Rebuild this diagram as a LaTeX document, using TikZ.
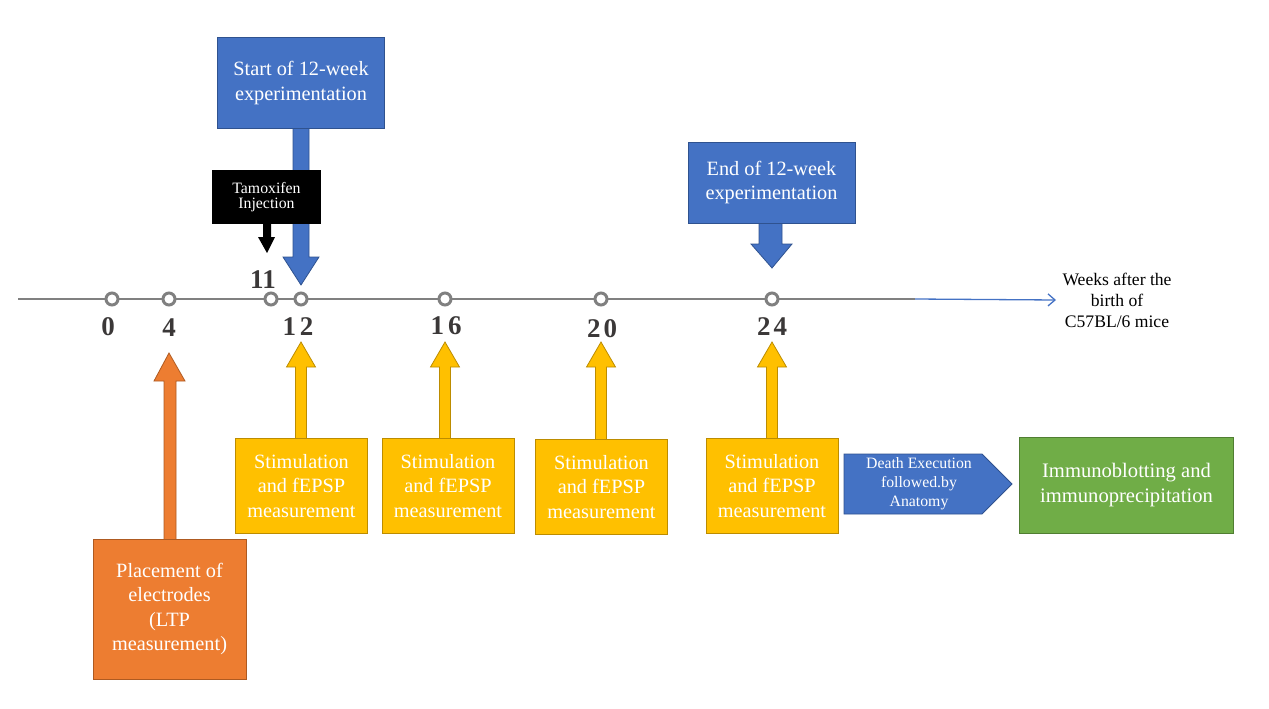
\documentclass[tikz,border=0pt]{standalone}
\usepackage{fontspec}
\setmainfont{Liberation Serif}
\usetikzlibrary{arrows.meta}
\definecolor{cblue}{HTML}{4472C4}
\definecolor{cblueb}{HTML}{2F528F}
\definecolor{corange}{HTML}{ED7D31}
\definecolor{corangeb}{HTML}{AE5A21}
\definecolor{cyellow}{HTML}{FFC000}
\definecolor{cyellowb}{HTML}{BC8C00}
\definecolor{cgreen}{HTML}{70AD47}
\definecolor{cgreenb}{HTML}{507E32}
\definecolor{caxis}{HTML}{808080}
\definecolor{cnum}{HTML}{3B3838}
\tikzset{
  txt20/.style={font=\fontsize{20.3}{24.5}\selectfont},
  bluebox/.style={draw=cblueb, fill=cblue, text=white, align=center, inner sep=0pt, line width=0.8pt, txt20},
  yelbox/.style={draw=cyellowb, fill=cyellow, text=white, align=center, inner sep=0pt, line width=0.8pt, minimum width=132pt, minimum height=95pt, txt20},
  yelarrow/.style={draw=cyellowb, fill=cyellow, line width=0.8pt},
  tick/.style={circle, draw=caxis, fill=white, line width=3pt, minimum size=12pt, inner sep=0pt},
  num/.style={text=cnum, font=\fontsize{27}{27}\selectfont\bfseries},
}
\begin{document}
\begin{tikzpicture}[x=1pt,y=-1pt]
\useasboundingbox (0,0) rectangle (1269,709);
% axis
\coordinate (axL) at (18,299);
\coordinate (axM) at (915,299);
\coordinate (axR) at (1056,300);
\draw[caxis, line width=2pt] (axL) -- (axM);
\draw[cblue, line width=1.3pt, -{Straight Barb[length=7pt,width=12pt]}] (axM) -- (axR);
\node[align=center, font=\fontsize{17.6}{21}\selectfont, anchor=center] (wk) at (1117,300) {Weeks after the\\birth of\\C57BL/6 mice};
% start callout
\fill[cblue, draw=cblueb, line width=0.8pt] (293,128) -- (293,257) -- (283,257) -- (301,285) -- (319,257) -- (309,257) -- (309,128) -- cycle;
\node[bluebox, minimum width=167pt, minimum height=91pt] (start) at (301,83) {Start of 12-week\\experimentation};
% tamoxifen
\node[fill=black, text=white, align=center, inner sep=0pt, minimum width=109pt, minimum height=54pt, font=\fontsize{15.8}{15.5}\selectfont] (tam) at (266.5,197) {Tamoxifen\\Injection};
\fill[black] (263,224) -- (263,237) -- (258,237) -- (267,253) -- (275,237) -- (271,237) -- (271,224) -- cycle;
% end callout
\fill[cblue, draw=cblueb, line width=0.8pt] (759,222) -- (759,244) -- (751,244) -- (772,268) -- (792,244) -- (782,244) -- (782,222) -- cycle;
\node[bluebox, minimum width=167pt, minimum height=81pt] (end) at (771.5,182.5) {End of 12-week\\experimentation};
% ticks
\node[tick] (t0) at (112,299) {};
\node[tick] (t4) at (169,299) {};
\node[tick] (t11) at (271,299) {};
\node[tick] (t12) at (301,299) {};
\node[tick] (t16) at (445,299) {};
\node[tick] (t20) at (601,299) {};
\node[tick] (t24) at (772,299) {};
% numbers
\node[num] (n0) at (108,327) {0};
\node[num] (n4) at (169,328) {4};
\node[num] (n11) at (263,280) {11};
\node[num] (n12) at (298,327) {1\kern4pt 2};
\node[num] (n16) at (446,326) {1\kern4pt 6};
\node[num] (n20) at (602,329) {2\kern3pt 0};
\node[num] (n24) at (772,327) {2\kern3pt 4};
% orange
\fill[corange, draw=corangeb, line width=0.8pt] (164,540) -- (164,381) -- (154,381) -- (169,353) -- (185,381) -- (176,381) -- (176,540) -- cycle;
\node[draw=corangeb, fill=corange, text=white, align=center, inner sep=0pt, line width=0.8pt, minimum width=153pt, minimum height=140pt, txt20] (place) at (169.5,609) {Placement of\\electrodes\\(LTP\\measurement)};
% yellow arrows and boxes
\foreach \cx in {301, 445, 601, 772}{
  \draw[yelarrow] (\cx-5.5,440) -- (\cx-5.5,367) -- (\cx-14.5,367) -- (\cx,342) -- (\cx+14.5,367) -- (\cx+5.5,367) -- (\cx+5.5,440) -- cycle;
}
\node[yelbox] (s1) at (301.5,486) {Stimulation\\and fEPSP\\measurement};
\node[yelbox] (s2) at (448,486) {Stimulation\\and fEPSP\\measurement};
\node[yelbox] (s3) at (601.5,487) {Stimulation\\and fEPSP\\measurement};
\node[yelbox] (s4) at (772,486) {Stimulation\\and fEPSP\\measurement};
% pentagon
\draw[cblueb, fill=cblue, line width=0.8pt] (844,454) -- (982,454) -- (1012,484) -- (982,514) -- (844,514) -- cycle;
\node[text=white, align=center, font=\fontsize{15.8}{19}\selectfont] (death) at (919,484) {Death Execution\\followed.by\\Anatomy};
% green
\node[draw=cgreenb, fill=cgreen, text=white, align=center, inner sep=0pt, line width=0.8pt, minimum width=214pt, minimum height=96pt, font=\fontsize{20.6}{25}\selectfont] (immuno) at (1126.5,485) {Immunoblotting and\\immunoprecipitation};
\end{tikzpicture}
\end{document}
